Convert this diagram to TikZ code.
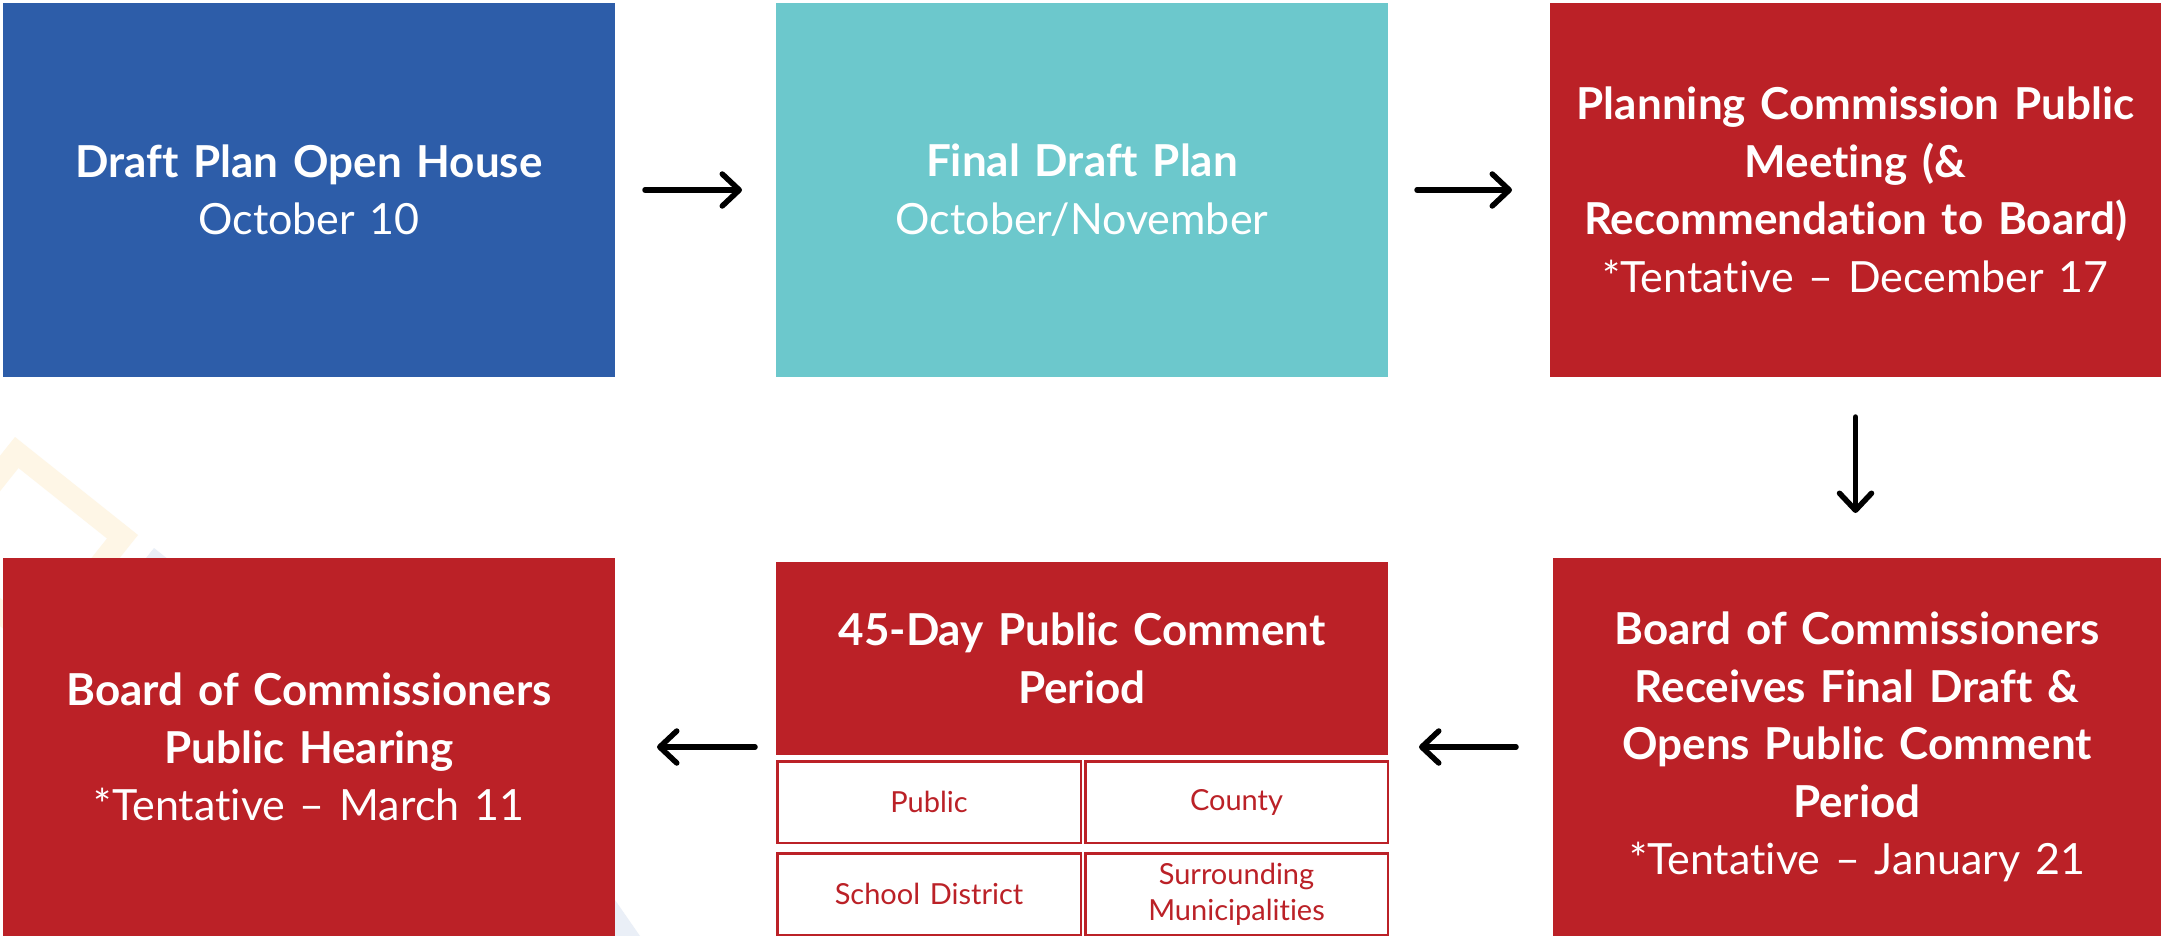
\documentclass[tikz,border=0pt]{standalone}
\usepackage{fontspec}
\setmainfont{Lato}[Ligatures={NoCommon}]
\usetikzlibrary{arrows.meta}
\definecolor{cblue}{HTML}{2D5DA9}
\definecolor{cteal}{HTML}{6CC8CC}
\definecolor{cred}{HTML}{BB2127}
\definecolor{cyel}{HTML}{FEF6E6}
\definecolor{cfaint}{HTML}{EAEFF7}
\tikzset{
  box/.style={anchor=north west, inner sep=0pt, outer sep=0pt, text=white, align=center,
    text width=#1, font=\fontsize{44}{57.5}\selectfont},
  box/.default=590pt,
  cell/.style={anchor=north west, inner sep=0pt, outer sep=0pt, draw=cred, line width=2.5pt,
    text=cred, align=center, text width=290pt, font=\fontsize{29}{36}\selectfont},
  arr/.style={line width=5.5pt, line cap=round,
    -{Straight Barb[length=17pt,width=32pt,line cap=round,line join=round]}},
}
\newcommand\dt[1]{{\fontsize{43}{57.5}\selectfont #1}}
\begin{document}
\begin{tikzpicture}[x=1pt,y=-1pt]
\useasboundingbox (0,0) rectangle (2161,936);
\fill[white] (0,0) rectangle (2161,936);
\begin{scope}
  \clip (0,0) rectangle (2161,936);
  \fill[cyel, even odd rule] (15,437) -- (138,535) -- (40,658) -- (-83,560) -- cycle
    (18.5,468) -- (107,538.5) -- (36.5,627) -- (-52,556.5) -- cycle;
  \fill[cfaint] (154,548) -- (247.6,622.4) -- (173,716) -- (79.6,641.6) -- cycle;
  \fill[cfaint] (615,900) -- (640,936) -- (615,936) -- cycle;
\end{scope}

\node[box, fill=cblue, minimum width=612pt, minimum height=374pt] (b1) at (3,3)
  {\textbf{Draft Plan Open House}\\\dt{October 10}};
\node[box, fill=cteal, minimum width=612pt, minimum height=374pt] (b2) at (776,3)
  {\textbf{Final Draft Plan}\\\dt{October/November}};
\node[box, fill=cred, minimum width=611pt, minimum height=374pt] (b3) at (1550,3)
  {{\bfseries Planning Commission Public\\Meeting (\&\\Recommendation to Board)}\\\dt{*Tentative – December 17}};

\node[box, fill=cred, minimum width=608pt, minimum height=378pt] (b4) at (1553,558)
  {{\bfseries Board of Commissioners\\Receives Final Draft \&\\Opens Public Comment\\Period}\\\dt{*Tentative – January 21}};
\node[box, fill=cred, minimum width=612pt, minimum height=193pt] (hdr) at (776,562)
  {\bfseries 45-Day Public Comment\\Period};
\node[cell, minimum width=303.5pt, minimum height=81.5pt] (c1) at (777.25,761.25) {Public};
\node[cell, minimum width=302.5pt, minimum height=81.5pt] (c2) at (1085.25,761.25) {County};
\node[cell, minimum width=303.5pt, minimum height=81.5pt] (c3) at (777.25,853.25) {School District};
\node[cell, minimum width=302.5pt, minimum height=81.5pt] (c4) at (1085.25,853.25) {Surrounding\\Municipalities};
\node[box, fill=cred, minimum width=612pt, minimum height=378pt] (b6) at (3,558)
  {{\bfseries Board of Commissioners\\Public Hearing}\\\dt{*Tentative – March 11}};

\draw[arr, shorten <=30pt, shorten >=34pt] (b1.east) -- (b2.west);
\draw[arr, shorten <=29pt, shorten >=38pt] (b2.east) -- (b3.west);
\draw[arr, shorten <=40pt, shorten >=45pt] (b3.south) -- (b3.south |- b4.north);
\draw[arr, shorten <=37pt, shorten >=31pt] (b4.west) -- (b4.west -| hdr.east);
\draw[arr, shorten <=21pt, shorten >=42pt] (b4.west -| hdr.west) -- (b6.east);
\end{tikzpicture}
\end{document}
